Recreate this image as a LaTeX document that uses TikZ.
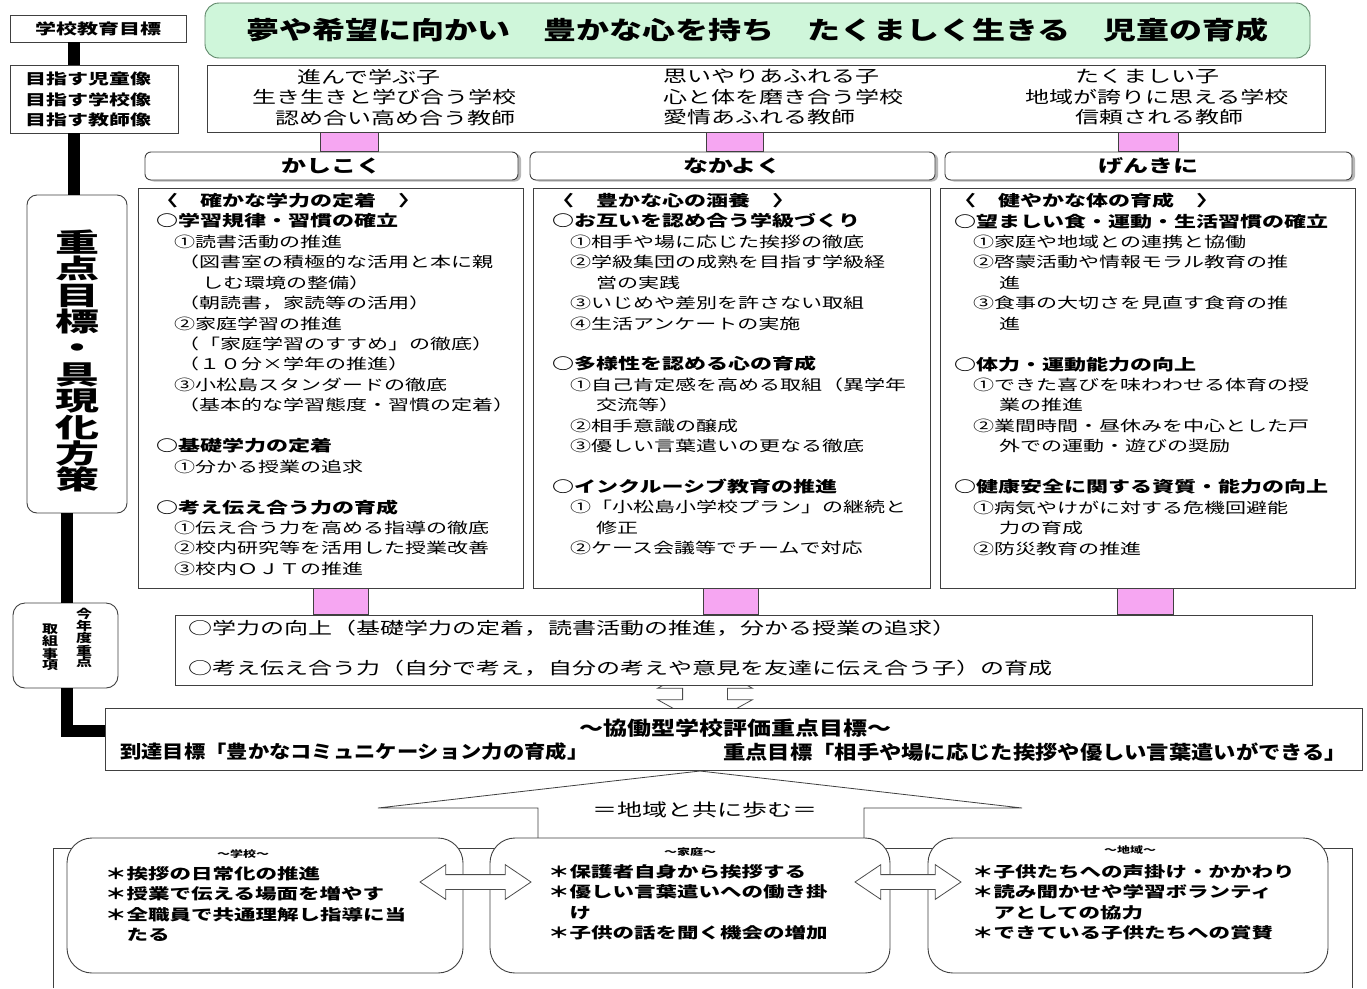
\documentclass[tikz,border=0pt]{standalone}
\usepackage{fontspec}
\setmainfont{Noto Sans CJK JP}
\usetikzlibrary{positioning,calc,shapes.arrows,shadows}

\definecolor{mint}{RGB}{207,246,218}
\definecolor{mintedge}{RGB}{95,135,105}
\definecolor{pinkfill}{RGB}{246,166,242}

\newcommand\fsz[2]{\fontsize{#1}{#2}\selectfont}
\newcommand\hdl[1]{{\bfseries\fsz{22}{29.2}#1}}

\begin{document}
\begin{tikzpicture}[x=1pt,y=-1pt,
	box/.style={draw=black!75, line width=0.9pt, fill=white, inner sep=0pt},
	rbox/.style={box, rounded corners=#1},
	txt/.style={inner sep=0pt, align=left},
	sq/.style={yscale=#1}, sq/.default=0.7,
	bar/.style={line width=12pt, black},
	pinkbar/.style={draw=black!75, fill=pinkfill, line width=0.8pt},
	head/.style={rbox=6pt, drop shadow={shadow xshift=3pt, shadow yshift=-1.5pt, fill=black!55}},
	blockarrow/.style={double arrow, draw=black!70, fill=white, line width=0.8pt, inner xsep=0pt}]
		\useasboundingbox (0,0) rectangle (1367,988);
		\fill[white] (0,0) rectangle (1367,988);
		\node[blockarrow, rotate=90, minimum height=64pt, inner ysep=22pt, double arrow head extend=25pt, double arrow tip angle=122] (ud) at (705,694) {};
		\draw[black!75, line width=0.8pt] (53,988) -- (53,848) -- (1352,848) -- (1352,988);
		\draw[black!75, line width=0.8pt] (538,838) -- (538,808) -- (378,808) -- (700,771) -- (1022,808) -- (864,808) -- (864,838);

		\node[rbox=14pt, draw=mintedge, fill=mint, minimum width=1105pt, minimum height=55pt] (title) at (757.5,30.5) {};
		\node[box, minimum width=176pt, minimum height=27pt] (goal) at (98,28.5) {};
		\node[box, minimum width=168pt, minimum height=68pt] (aimsL) at (94,99) {};
		\node[box, minimum width=1118pt, minimum height=67pt] (aims) at (766,98.5) {};
		\node[rbox=10pt, minimum width=100pt, minimum height=318pt] (juten) at (77,354) {};
		\node[rbox=12pt, minimum width=105pt, minimum height=85pt] (torikumi) at (65.5,645.5) {};
		\node[head, minimum width=373pt, minimum height=28pt] (hd1) at (331.5,166) {};
		\node[head, minimum width=405pt, minimum height=28pt] (hd2) at (732.5,166) {};
		\node[head, minimum width=407pt, minimum height=28pt] (hd3) at (1148.5,166) {};
		\node[box, minimum width=385pt, minimum height=400pt] (cont1) at (330.5,388) {};
		\node[box, minimum width=397pt, minimum height=400pt] (cont2) at (731.5,388) {};
		\node[box, minimum width=415pt, minimum height=400pt] (cont3) at (1147.5,388) {};
		\node[box, minimum width=1137pt, minimum height=70pt] (focus) at (743.5,650) {};
		\node[box, minimum width=1257pt, minimum height=62pt] (kyodo) at (733.5,739) {};
		\node[rbox=25pt, minimum width=396pt, minimum height=135pt] (school) at (265,905.5) {};
		\node[rbox=25pt, minimum width=400pt, minimum height=135pt] (home) at (690,905.5) {};
		\node[rbox=25pt, minimum width=400pt, minimum height=135pt] (region) at (1128,905.5) {};

		\draw[bar] (goal.south -| 74,0) -- (aimsL.north -| 74,0);
		\draw[bar] (aimsL.south -| 74,0) -- (juten.north -| 74,0);
		\draw[bar] (juten.south -| 67,0) -- (torikumi.north -| 67,0);
		\draw[bar] (torikumi.south -| 67,0) |- ($(kyodo.west)+(0,-8)$);
		\draw[pinkbar] (aims.south -| 320,0) rectangle (hd1.north -| 378,0);
		\draw[pinkbar] (aims.south -| 706,0) rectangle (hd2.north -| 763,0);
		\draw[pinkbar] (aims.south -| 1118,0) rectangle (hd3.north -| 1178,0);
		\draw[pinkbar] (cont1.south -| 313,0) rectangle (focus.north -| 368,0);
		\draw[pinkbar] (cont2.south -| 703,0) rectangle (focus.north -| 758,0);
		\draw[pinkbar] (cont3.south -| 1117,0) rectangle (focus.north -| 1173,0);
		\node[blockarrow, minimum height=111pt, inner ysep=7pt, double arrow head extend=10pt, double arrow tip angle=68] (arrSH) at (475.5,882) {};
		\node[blockarrow, minimum height=106pt, inner ysep=7pt, double arrow head extend=10pt, double arrow tip angle=68] (arrHR) at (908,882) {};

		\node[txt, sq=0.75, font=\bfseries\fsz{33}{33}] at (title) {夢や希望に向かい　豊かな心を持ち　たくましく生きる　児童の育成};
		\node[txt, sq, font=\bfseries\fsz{21}{21}] at (goal) {学校教育目標};
		\node[txt, sq, anchor=north west, font=\bfseries\fsz{21}{29.3}] at (25,72) {目指す児童像\\目指す学校像\\目指す教師像};
		\node[txt, sq, anchor=north west, font=\fsz{24}{29.3}] at (252,69) {\hspace*{45pt}進んで学ぶ子\\生き生きと学び合う学校\\\hspace*{23pt}認め合い高め合う教師};
		\node[txt, sq, anchor=north west, font=\fsz{24}{29.3}] at (663,69) {思いやりあふれる子\\心と体を磨き合う学校\\愛情あふれる教師};
		\node[txt, sq, anchor=north west, font=\fsz{24}{29.3}] at (1025,69) {\hspace*{50pt}たくましい子\\地域が誇りに思える学校\\\hspace*{50pt}信頼される教師};
		\node[txt, sq=0.6, align=center, font=\bfseries\fsz{44}{44}] at (77,361) {重\\点\\目\\標\\・\\具\\現\\化\\方\\策};
		\node[txt, sq=0.75, align=center, anchor=north, font=\bfseries\fsz{16}{15}] at (84,608) {今\\年\\度\\重\\点};
		\node[txt, sq=0.75, align=center, anchor=north, font=\bfseries\fsz{16}{15}] at (50,624) {取\\組\\事\\項};
		\node[txt, sq, font=\bfseries\fsz{25}{25}] at (hd1) {かしこく};
		\node[txt, sq, font=\bfseries\fsz{25}{25}] at (hd2) {なかよく};
		\node[txt, sq, font=\bfseries\fsz{25}{25}] at (hd3) {げんきに};

		\node[txt, sq, anchor=north west, font=\fsz{21}{29.2}] at (156,193) {%
			\hdl{〈　確かな学力の定着　〉}\\
			\hdl{○学習規律・習慣の確立}\\
			\hspace*{18pt}①読書活動の推進\\
			\hspace*{22pt}（図書室の積極的な活用と本に親\\
			\hspace*{46pt}しむ環境の整備）\\
			\hspace*{22pt}（朝読書，家読等の活用）\\
			\hspace*{18pt}②家庭学習の推進\\
			\hspace*{22pt}（「家庭学習のすすめ」の徹底）\\
			\hspace*{22pt}（１０分×学年の推進）\\
			\hspace*{18pt}③小松島スタンダードの徹底\\
			\hspace*{22pt}（基本的な学習態度・習慣の定着）\\
			\mbox{}\\
			\hdl{○基礎学力の定着}\\
			\hspace*{18pt}①分かる授業の追求\\
			\mbox{}\\
			\hdl{○考え伝え合う力の育成}\\
			\hspace*{18pt}①伝え合う力を高める指導の徹底\\
			\hspace*{18pt}②校内研究等を活用した授業改善\\
			\hspace*{18pt}③校内ＯＪＴの推進};
		\node[txt, sq, anchor=north west, font=\fsz{21}{29.2}] at (552,193) {%
			\hdl{〈　豊かな心の涵養　〉}\\
			\hdl{○お互いを認め合う学級づくり}\\
			\hspace*{18pt}①相手や場に応じた挨拶の徹底\\
			\hspace*{18pt}②学級集団の成熟を目指す学級経\\
			\hspace*{44pt}営の実践\\
			\hspace*{18pt}③いじめや差別を許さない取組\\
			\hspace*{18pt}④生活アンケートの実施\\
			\mbox{}\\
			\hdl{○多様性を認める心の育成}\\
			\hspace*{18pt}①自己肯定感を高める取組（異学年\\
			\hspace*{44pt}交流等）\\
			\hspace*{18pt}②相手意識の醸成\\
			\hspace*{18pt}③優しい言葉遣いの更なる徹底\\
			\mbox{}\\
			\hdl{○インクルーシブ教育の推進}\\
			\hspace*{18pt}①「小松島小学校プラン」の継続と\\
			\hspace*{44pt}修正\\
			\hspace*{18pt}②ケース会議等でチームで対応};
		\node[txt, sq, anchor=north west, font=\fsz{21}{29.2}] at (954,193) {%
			\hdl{〈　健やかな体の育成　〉}\\
			\hdl{○望ましい食・運動・生活習慣の確立}\\
			\hspace*{19pt}①家庭や地域との連携と協働\\
			\hspace*{19pt}②啓蒙活動や情報モラル教育の推\\
			\hspace*{45pt}進\\
			\hspace*{19pt}③食事の大切さを見直す食育の推\\
			\hspace*{45pt}進\\
			\mbox{}\\
			\hdl{○体力・運動能力の向上}\\
			\hspace*{19pt}①できた喜びを味わわせる体育の授\\
			\hspace*{45pt}業の推進\\
			\hspace*{19pt}②業間時間・昼休みを中心とした戸\\
			\hspace*{45pt}外での運動・遊びの奨励\\
			\mbox{}\\
			\hdl{○健康安全に関する資質・能力の向上}\\
			\hspace*{19pt}①病気やけがに対する危機回避能\\
			\hspace*{45pt}力の育成\\
			\hspace*{19pt}②防災教育の推進};

		\node[txt, sq, anchor=north west, font=\fsz{24}{57}] at (188,620) {○学力の向上（基礎学力の定着，読書活動の推進，分かる授業の追求）\\○考え伝え合う力（自分で考え，自分の考えや意見を友達に伝え合う子）の育成};
		\node[txt, sq=0.8, font=\bfseries\fsz{24}{24}] at (735,728) {～協働型学校評価重点目標～};
		\node[txt, sq=0.85, anchor=west, font=\bfseries\fsz{21.3}{21.3}] at (120,752) {到達目標「豊かなコミュニケーション力の育成」};
		\node[txt, sq=0.85, anchor=west, font=\bfseries\fsz{22.3}{22.3}] at (723,752) {重点目標「相手や場に応じた挨拶や優しい言葉遣いができる」};
		\node[txt, sq, font=\fsz{25}{25}] at (705,810) {＝地域と共に歩む＝};

		\node[txt, sq, font=\bfseries\fsz{13}{13}] at (243,854) {～学校～};
		\node[txt, sq, anchor=north west, font=\bfseries\fsz{21.5}{29.3}] at (105,866) {＊挨拶の日常化の推進\\＊授業で伝える場面を増やす\\＊全職員で共通理解し指導に当\\\hspace*{21.5pt}たる};
		\node[txt, sq, font=\bfseries\fsz{13}{13}] at (690,852) {～家庭～};
		\node[txt, sq, anchor=north west, font=\bfseries\fsz{21.5}{29.3}] at (548,864) {＊保護者自身から挨拶する\\＊優しい言葉遣いへの働き掛\\\hspace*{21.5pt}け\\＊子供の話を聞く機会の増加};
		\node[txt, sq, font=\bfseries\fsz{13}{13}] at (1130,850) {～地域～};
		\node[txt, sq, anchor=north west, font=\bfseries\fsz{21.5}{29.3}] at (972,864) {＊子供たちへの声掛け・かかわり\\＊読み聞かせや学習ボランティ\\\hspace*{21.5pt}アとしての協力\\＊できている子供たちへの賞賛};
	\end{tikzpicture}
\end{document}
